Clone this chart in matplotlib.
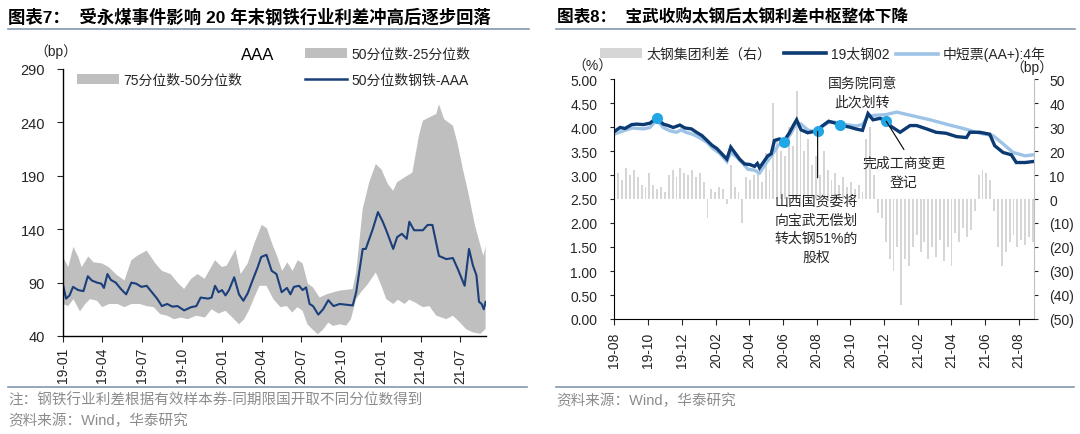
import matplotlib
matplotlib.use('Agg')
import matplotlib.pyplot as plt
import matplotlib.dates as mdates
from matplotlib.lines import Line2D
from matplotlib.patches import Patch
from matplotlib.ticker import FuncFormatter, FormatStrFormatter
import numpy as np
import pandas as pd

plt.rcParams['font.family'] = ['Liberation Sans', 'Noto Sans CJK SC', 'DejaVu Sans']

# ---------------- Left chart data (bp) ----------------
med_dates = ['2019-01-01','2019-01-08','2019-01-16','2019-01-24','2019-02-05','2019-02-17','2019-02-27',
             '2019-03-08','2019-03-20','2019-03-30','2019-04-05','2019-04-13','2019-04-21','2019-05-02',
             '2019-05-14','2019-05-26','2019-06-07','2019-06-18','2019-06-30','2019-07-12','2019-07-24',
             '2019-08-05','2019-08-16','2019-08-28','2019-09-09','2019-09-21','2019-10-06','2019-10-22',
             '2019-11-03','2019-11-13','2019-11-30','2019-12-08','2019-12-16','2019-12-24','2020-01-01',
             '2020-01-09','2020-01-17','2020-01-29','2020-02-09','2020-02-19','2020-02-29','2020-03-11',
             '2020-03-23','2020-03-31','2020-04-12','2020-04-24','2020-05-05','2020-05-17','2020-05-29',
             '2020-06-06','2020-06-14','2020-06-26','2020-07-04','2020-07-12','2020-07-20','2020-07-28',
             '2020-08-09','2020-08-20','2020-09-01','2020-09-13','2020-09-27','2020-10-27','2020-11-04',
             '2020-11-19','2020-11-26','2020-12-12','2020-12-24','2021-01-04','2021-01-12','2021-01-28',
             '2021-02-06','2021-02-17','2021-02-28','2021-03-06','2021-03-17','2021-04-06','2021-04-17',
             '2021-04-28','2021-05-13','2021-05-30','2021-06-14','2021-06-25','2021-07-11','2021-07-21',
             '2021-07-30','2021-08-07','2021-08-13','2021-08-19','2021-08-24','2021-08-28']
med_vals = [88, 75, 78, 86, 83, 82, 96,
            92, 90, 89, 85, 98, 92.5, 90,
            84, 79, 90, 89, 86, 87, 81,
            75, 68, 70, 67.5, 68, 64, 67,
            68, 76, 75, 76, 87, 81, 83,
            78, 83, 95, 79, 73, 80, 92,
            104.5, 114, 116, 101, 98, 81, 85,
            79, 86, 87, 83, 85.5, 70, 68,
            60, 65, 73.5, 68, 70, 68.6, 81,
            121.5, 121.5, 140, 156, 147, 139, 121.5,
            132.6, 135.7, 131, 147, 139, 139, 144,
            144, 115, 112, 113, 103, 87, 121.5,
            106, 97, 72, 70, 65, 72]

up_dates = ['2019-01-01','2019-01-13','2019-01-25','2019-02-05','2019-02-13','2019-02-28','2019-03-12',
            '2019-03-31','2019-04-16','2019-05-02','2019-05-22','2019-06-07','2019-06-22','2019-07-12',
            '2019-08-01','2019-08-16','2019-09-05','2019-09-21','2019-10-06','2019-10-22','2019-11-06',
            '2019-11-22','2019-12-16','2020-01-01','2020-01-12','2020-02-01','2020-02-13','2020-02-29',
            '2020-03-15','2020-04-01','2020-04-13','2020-04-25','2020-05-06','2020-05-18','2020-05-30',
            '2020-06-11','2020-06-23','2020-07-04','2020-07-16','2020-07-28','2020-08-12','2020-08-28',
            '2020-09-13','2020-09-27','2020-10-27','2020-11-04','2020-11-19','2020-12-04','2020-12-19',
            '2021-01-01','2021-01-16','2021-01-28','2021-02-06','2021-02-21','2021-03-13','2021-03-28',
            '2021-04-06','2021-04-21','2021-05-07','2021-05-13','2021-05-25','2021-06-14','2021-06-25',
            '2021-07-07','2021-07-19','2021-08-04','2021-08-16','2021-08-23','2021-08-28']
up_vals = [114, 104.5, 123.5, 114, 104.5, 114.5, 109,
           108, 104.5, 98, 92, 111, 115.5, 120,
           108, 101, 98, 90, 84, 93.5, 98,
           93.5, 111, 104.5, 106, 121, 98, 108,
           126.5, 144, 141, 126.5, 115.5, 101, 109,
           101, 111, 108, 89, 85.5, 76, 79,
           81, 82.5, 84, 100, 159, 184, 201,
           196, 182, 176, 184, 188, 193, 227.5,
           241.6, 244.7, 248, 257, 243, 237, 220,
           196, 175, 143, 125, 115, 124]

lo_dates = ['2019-01-01','2019-01-13','2019-01-25','2019-02-09','2019-02-21','2019-03-04','2019-03-20',
            '2019-04-01','2019-04-17','2019-05-06','2019-05-22','2019-06-07','2019-06-26','2019-07-12',
            '2019-07-28','2019-08-12','2019-08-28','2019-09-13','2019-09-29','2019-10-14','2019-11-03',
            '2019-11-23','2019-12-08','2019-12-24','2020-01-09','2020-01-25','2020-02-09','2020-02-21',
            '2020-03-04','2020-03-15','2020-03-27','2020-04-12','2020-04-28','2020-05-14','2020-05-29',
            '2020-06-10','2020-06-22','2020-07-04','2020-07-15','2020-07-27','2020-08-08','2020-08-20',
            '2020-09-01','2020-09-12','2020-09-27','2020-10-12','2020-10-23','2020-11-04','2020-11-15',
            '2020-12-01','2020-12-19','2021-01-01','2021-01-12','2021-01-28','2021-02-08','2021-02-23',
            '2021-03-06','2021-03-21','2021-04-06','2021-04-21','2021-05-07','2021-05-30','2021-06-14',
            '2021-06-30','2021-07-14','2021-07-30','2021-08-16','2021-08-28']
lo_vals = [70, 68, 74.5, 63, 70, 74.5, 73,
           67, 70, 70, 67, 70, 70, 68,
           67, 60.5, 59, 55.7, 57.3, 55.7, 59,
           57.3, 65, 61, 63.6, 57.3, 51, 55.7,
           65, 76, 87, 87, 74.5, 67, 68,
           62, 67, 63.6, 51, 46, 41.6, 46,
           52.6, 49.4, 51, 49.7, 55.8, 74.6, 81,
           88.7, 99.6, 87, 74.6, 70, 74, 70,
           74, 71, 67, 68, 59, 55.8, 59,
           52.8, 46.5, 43.4, 42, 46.5]

left_ticks = ['2019-01-01','2019-04-01','2019-07-01','2019-10-01','2020-01-01','2020-04-01',
              '2020-07-01','2020-10-01','2021-01-01','2021-04-01','2021-07-01']
left_yticks = [40, 90, 140, 190, 240, 290]

# ---------------- Right chart data ----------------
tg_dates = ['2019-08-01','2019-08-07','2019-08-12','2019-08-21','2019-09-02','2019-09-11','2019-09-23',
            '2019-10-05','2019-10-17','2019-10-29','2019-11-07','2019-11-16','2019-11-28','2019-12-07',
            '2019-12-19','2019-12-28','2020-01-07','2020-01-16','2020-01-25','2020-02-03','2020-02-12',
            '2020-02-21','2020-02-28','2020-03-06','2020-03-15','2020-03-24','2020-04-02','2020-04-11',
            '2020-04-16','2020-04-20','2020-04-29','2020-05-05','2020-05-11','2020-05-17','2020-05-26',
            '2020-06-04','2020-06-13','2020-06-21','2020-06-26','2020-07-04','2020-07-16','2020-07-29',
            '2020-08-10','2020-08-23','2020-09-04','2020-09-16','2020-09-29','2020-10-11','2020-10-23',
            '2020-11-02','2020-11-11','2020-11-24','2020-12-05','2020-12-14','2020-12-30','2021-01-17',
            '2021-01-29','2021-02-16','2021-03-05','2021-03-23','2021-04-11','2021-04-29','2021-05-05',
            '2021-05-23','2021-06-10','2021-06-19','2021-07-04','2021-07-19','2021-07-28','2021-08-13',
            '2021-08-27']
tg_vals = [3.90, 3.95, 3.99, 3.97, 4.05, 4.06, 4.05,
           4.08, 4.19, 4.06, 4.03, 3.99, 4.04, 3.98,
           3.96, 3.89, 3.82, 3.72, 3.62, 3.55, 3.44,
           3.33, 3.58, 3.47, 3.33, 3.23, 3.22, 3.18,
           3.24, 3.15, 3.30, 3.40, 3.44, 3.72, 3.75,
           3.72, 3.88, 4.05, 4.15, 3.94, 3.88, 3.91,
           4.01, 4.12, 4.08, 4.03, 4.00, 3.96, 3.93,
           4.28, 4.15, 4.18, 4.12, 4.01, 3.89, 4.03,
           4.03, 3.96, 3.89, 3.87, 3.80, 3.78, 3.89,
           3.89, 3.85, 3.61, 3.47, 3.42, 3.26, 3.26,
           3.28]

mtn_dates = ['2019-08-01','2019-08-18','2019-09-03','2019-09-23','2019-10-05','2019-10-17','2019-10-29',
             '2019-11-10','2019-11-22','2019-11-30','2019-12-09','2019-12-21','2020-01-02','2020-01-16',
             '2020-01-27','2020-02-09','2020-02-21','2020-02-28','2020-03-10','2020-03-21','2020-03-30',
             '2020-04-11','2020-04-20','2020-04-29','2020-05-09','2020-05-15','2020-05-24','2020-06-06',
             '2020-06-15','2020-06-24','2020-07-04','2020-07-16','2020-07-29','2020-08-10','2020-08-23',
             '2020-09-04','2020-09-16','2020-09-29','2020-10-11','2020-10-23','2020-11-02','2020-11-11',
             '2020-11-24','2020-12-05','2020-12-24','2021-01-23','2021-02-22','2021-03-23','2021-04-23',
             '2021-05-23','2021-06-16','2021-07-04','2021-07-22','2021-08-13','2021-08-27']
mtn_vals = [3.85, 3.92, 3.98, 3.96, 3.99, 4.15, 3.99,
            3.92, 3.89, 3.94, 3.89, 3.85, 3.78, 3.68,
            3.55, 3.44, 3.28, 3.47, 3.37, 3.24, 3.12,
            3.10, 3.04, 3.20, 3.36, 3.46, 3.62, 3.72,
            3.85, 4.05, 4.06, 3.94, 3.90, 4.00, 4.10,
            4.10, 4.06, 4.04, 4.02, 4.05, 4.22, 4.24,
            4.25, 4.26, 4.31, 4.23, 4.15, 4.06, 3.97,
            3.87, 3.82, 3.65, 3.47, 3.40, 3.42]

spread_bp = [9, 11, 8, 13, 10, 12, 9,
             6, 5, 11, 6,
             4, 5, 3,
             10, 12, 9, 13, 11, 10, 12, 9, 11,
             7, -8, 4, 3, 5, 4, -2, 14, 5, 3, -10,
             9, 8, 10, 11, 7, 19, 12,
             40, 25, 20, 18, 30, 22, 45, 32,
             20, 25, 14, 18, 10, 20, 12,
             8, 11, 6, 9, 5, 7, 4, 6, 3,
             25, 30, 10, -6, -8,
             -18, -25, -30, -20, -44, -25, -28, -20, -15,
             -22, -18, -25, -20, -24, -17, -26, -20, -28,
             -14, -18, -12, -16, -13, -5,
             10, 12, 11, 8, -5,
             -20, -28, -22, -18, -15, -20, -17, -19, -16, -18]
spread_start = '2019-08-02'

event_dates = ['2019-10-17', '2020-06-03', '2020-08-03', '2020-09-13', '2020-12-05']
event_vals = [4.18, 3.69, 3.91, 4.04, 4.12]

right_ticks = ['2019-08-01','2019-10-01','2019-12-01','2020-02-01','2020-04-01','2020-06-01',
               '2020-08-01','2020-10-01','2020-12-01','2021-02-01','2021-04-01','2021-06-01',
               '2021-08-01']

# ---------------- styling ----------------
W, H = 1080, 435
fig = plt.figure(figsize=(W/100, H/100), dpi=100)

def fx(px):
    return px / W

def fy(py):
    return 1 - py / H

TXT = '#262626'
GREY_BAND = '#bfbfbf'
NAVY = '#1b3f7a'
DARK = '#0c3a72'
LIGHT = '#9dc3e6'
BARC = '#d6d6d6'
RULE = '#8497b0'
FOOT = '#8c8c8c'

# titles & rules
fig.text(fx(8), fy(17), '图表7：  受永煤事件影响 20 年末钢铁行业利差冲高后逐步回落',
         fontsize=12.5, fontweight='bold', va='center', ha='left', color='black')
fig.text(fx(557), fy(17), '图表8：  宝武收购太钢后太钢利差中枢整体下降',
         fontsize=12, fontweight='bold', va='center', ha='left', color='black')
for x0, x1 in [(8, 529), (556, 1075)]:
    fig.add_artist(Line2D([fx(x0), fx(x1)], [fy(30), fy(30)], color=RULE, lw=1.2))
for x0, x1 in [(8, 527), (556, 1074)]:
    fig.add_artist(Line2D([fx(x0), fx(x1)], [fy(388), fy(388)], color=RULE, lw=1.2))
fig.text(fx(8), fy(401), '注：钢铁行业利差根据有效样本券-同期限国开取不同分位数得到',
         fontsize=10.5, color=FOOT, va='center', ha='left')
fig.text(fx(8), fy(421), '资料来源：Wind，华泰研究', fontsize=10.5, color=FOOT, va='center', ha='left')
fig.text(fx(556), fy(401), '资料来源：Wind，华泰研究', fontsize=10.5, color=FOOT, va='center', ha='left')

# ---------------- left chart ----------------
axL = fig.add_axes([fx(63), fy(337), fx(486) - fx(63), fy(70) - fy(337)])
md = pd.to_datetime(med_dates)
ud = pd.to_datetime(up_dates)
ld = pd.to_datetime(lo_dates)
axL.fill(np.concatenate([ud.values, md.values[::-1]]),
         np.concatenate([up_vals, med_vals[::-1]]), color=GREY_BAND, lw=0)
axL.fill(np.concatenate([md.values, ld.values[::-1]]),
         np.concatenate([med_vals, lo_vals[::-1]]), color=GREY_BAND, lw=0)
axL.plot(md, med_vals, color=NAVY, lw=1.5)
axL.set_ylim(40, 290)
axL.set_yticks(left_yticks)
axL.set_xlim(pd.Timestamp('2019-01-01'), pd.Timestamp('2021-08-29'))
axL.set_xticks(pd.to_datetime(left_ticks))
axL.xaxis.set_major_formatter(mdates.DateFormatter('%y-%m'))
for s in ['top', 'right']:
    axL.spines[s].set_visible(False)
for s in ['left', 'bottom']:
    axL.spines[s].set_color('black')
    axL.spines[s].set_linewidth(1.0)
axL.tick_params(axis='y', direction='out', length=4, pad=9, labelsize=10.5, colors=TXT)
axL.tick_params(axis='x', direction='out', length=4, pad=4, labelsize=10, colors=TXT, labelrotation=90)
axL.patch.set_visible(False)

fig.text(fx(56), fy(52), '（bp）', fontsize=10, ha='center', va='center', color=TXT)
fig.text(fx(258), fy(55), 'AAA', fontsize=12, ha='center', va='center', color='black')

def put_legend(handle, label, x, y, fs=10):
    lg = fig.legend([handle], [label], loc='center left', bbox_to_anchor=(fx(x), fy(y)),
                    frameon=False, borderpad=0, borderaxespad=0, handlelength=3,
                    handletextpad=0.35, fontsize=fs, labelcolor=TXT)
    return lg

put_legend(Patch(facecolor=GREY_BAND, edgecolor='none'), '50分位数-25分位数', 305, 55)
put_legend(Patch(facecolor=GREY_BAND, edgecolor='none'), '75分位数-50分位数', 77, 81)
put_legend(Line2D([], [], color=NAVY, lw=1.8), '50分位数钢铁-AAA', 305, 81)

# ---------------- right chart ----------------
axR = fig.add_axes([fx(614), fy(320), fx(1034) - fx(614), fy(80) - fy(320)])
axB = axR.twinx()
bd = pd.date_range(spread_start, periods=len(spread_bp), freq='7D')
axB.bar(bd, spread_bp, width=3.4, color=BARC, lw=0)
axB.set_ylim(-50, 50)
axB.set_yticks(np.arange(-50, 51, 10))
axB.yaxis.set_major_formatter(FuncFormatter(lambda v, p: f'({abs(int(round(v)))})' if v < 0 else f'{int(round(v))}'))
axR.set_zorder(axB.get_zorder() + 1)
axR.patch.set_visible(False)

axR.plot(pd.to_datetime(mtn_dates), mtn_vals, color=LIGHT, lw=2.4, solid_joinstyle='miter')
axR.plot(pd.to_datetime(tg_dates), tg_vals, color=DARK, lw=2.4, solid_joinstyle='miter')
ed = pd.to_datetime(event_dates)
axR.plot(ed, event_vals, ls='none', marker='o', ms=8, color='#22a7e6', mec='none')
axR.set_ylim(0, 5)
axR.set_yticks(np.arange(0, 5.01, 0.5))
axR.yaxis.set_major_formatter(FormatStrFormatter('%.2f'))
axR.set_xlim(pd.Timestamp('2019-08-01'), pd.Timestamp('2021-08-29'))
axR.set_xticks(pd.to_datetime(right_ticks))
axR.xaxis.set_major_formatter(mdates.DateFormatter('%y-%m'))
axR.tick_params(axis='y', direction='out', length=3, pad=9, labelsize=10, colors=TXT)
axR.tick_params(axis='x', direction='out', length=4, pad=5, labelsize=10, colors=TXT, labelrotation=90)
axB.tick_params(axis='y', direction='out', length=3, pad=8, labelsize=10, colors=TXT)
for a in (axR, axB):
    a.spines['top'].set_visible(False)
axB.spines['left'].set_visible(False)
axB.spines['bottom'].set_visible(False)
axB.spines['right'].set_color('#bfbfbf')
axR.spines['right'].set_visible(False)
axR.spines['left'].set_color('black')
axR.spines['bottom'].set_color('black')

# annotations
axR.text(pd.Timestamp('2020-10-23'), 4.72, '国务院同意\n此次划转', ha='center', va='center',
         fontsize=10, color=TXT, linespacing=1.45)
axR.text(pd.Timestamp('2021-01-06'), 3.05, '完成工商变更\n登记', ha='center', va='center',
         fontsize=10, color=TXT, linespacing=1.45)
axR.text(pd.Timestamp('2020-08-01'), 1.88, '山西国资委将\n向宝武无偿划\n转太钢51%的\n股权', ha='center',
         va='center', fontsize=10, color=TXT, linespacing=1.45)
axR.annotate('', xy=(ed[4], event_vals[4]), xytext=(pd.Timestamp('2021-01-06'), 3.53),
             arrowprops=dict(arrowstyle='-', color='black', lw=0.8, shrinkA=0, shrinkB=0))
axR.annotate('', xy=(ed[2], event_vals[2]), xytext=(ed[2], 2.94),
             arrowprops=dict(arrowstyle='-', color='black', lw=0.8, shrinkA=0, shrinkB=0))

fig.text(fx(592), fy(67), '（%）', fontsize=10, ha='center', va='center', color=TXT)
fig.text(fx(1032), fy(68), '（bp）', fontsize=10, ha='center', va='center', color=TXT)

put_legend(Patch(facecolor=BARC, edgecolor='none'), '太钢集团利差（右）', 600, 55)
put_legend(Line2D([], [], color=DARK, lw=2.6), '19太钢02', 784, 55)
put_legend(Line2D([], [], color=LIGHT, lw=2.6), '中短票(AA+):4年', 896, 55)

fig.savefig('out.png', dpi=100)
